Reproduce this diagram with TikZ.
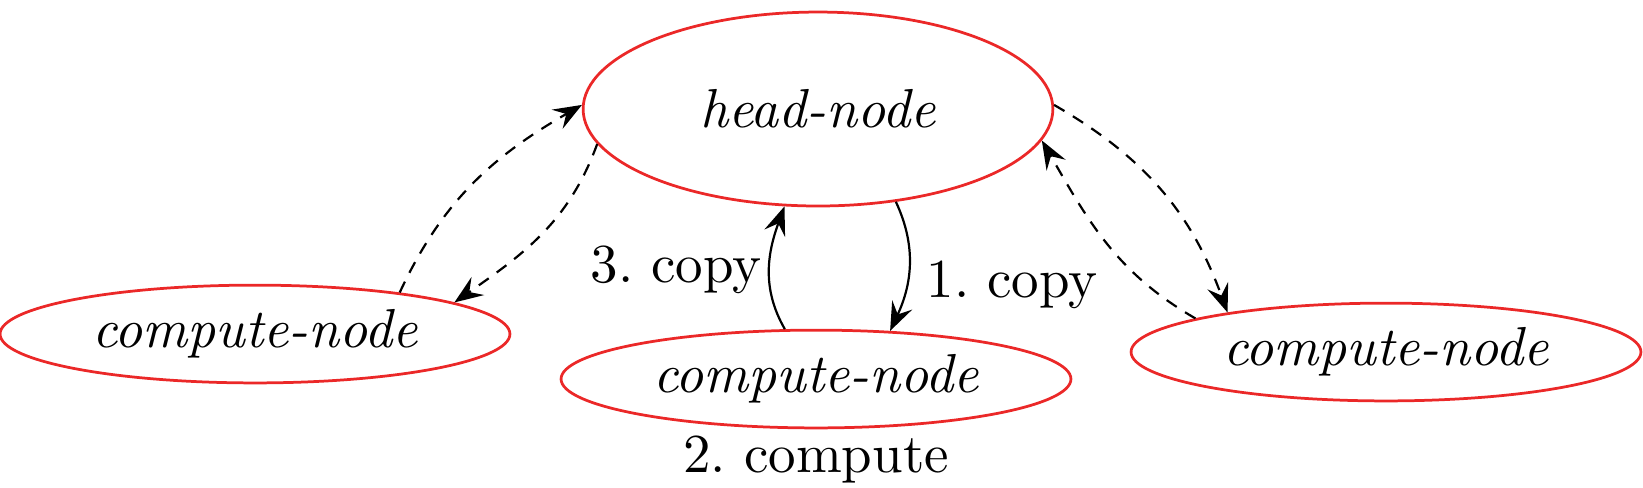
\documentclass[tikz,border=0pt]{standalone}
\usetikzlibrary{shapes.geometric,arrows.meta}
\definecolor{nodered}{RGB}{235,40,40}
\begin{document}
\begin{tikzpicture}[x=0.182pt,y=-0.182pt,
  ell/.style={draw=nodered,line width=0.5pt,ellipse,inner sep=0pt,font=\itshape},
  headell/.style={ell,minimum width=85.5pt,minimum height=35.3pt},
  compell/.style={ell,minimum width=92.8pt,minimum height=17.8pt},
  conn/.style={-{Stealth[length=5.2pt,width=4pt,inset=1.9pt]},line width=0.4pt},
  dconn/.style={conn,dash pattern=on 2.2pt off 1.8pt},
  lbl/.style={inner sep=0pt}]
\useasboundingbox (0,0) rectangle (1643,487);
\node[headell] (head) at (818,109) {head-node};
\node[compell] (left) at (255,334) {compute-node};
\node[compell] (mid) at (816,379) {compute-node};
\node[compell] (right) at (1386,352) {compute-node};
\node[lbl] (l3) at (676,270) {3.\ copy};
\node[lbl] (l1) at (1012,285) {1.\ copy};
\node[lbl] (l2) at (816,460) {2.\ compute};
\draw[dconn] (left.16) to[out=65,in=210] (head.179);
\draw[dconn] (head.189) to[out=-110,in=35] (left.9);
\draw[dconn] (head.1) to[out=-30,in=110] (right.166.5);
\draw[dconn] (right.170) to[out=150,in=-60] (head.352);
\draw[conn] (head.310) to[out=-65,in=65] (mid.33);
\draw[conn] (mid.122) to[out=120,in=-110] (head.251);
\end{tikzpicture}
\end{document}
